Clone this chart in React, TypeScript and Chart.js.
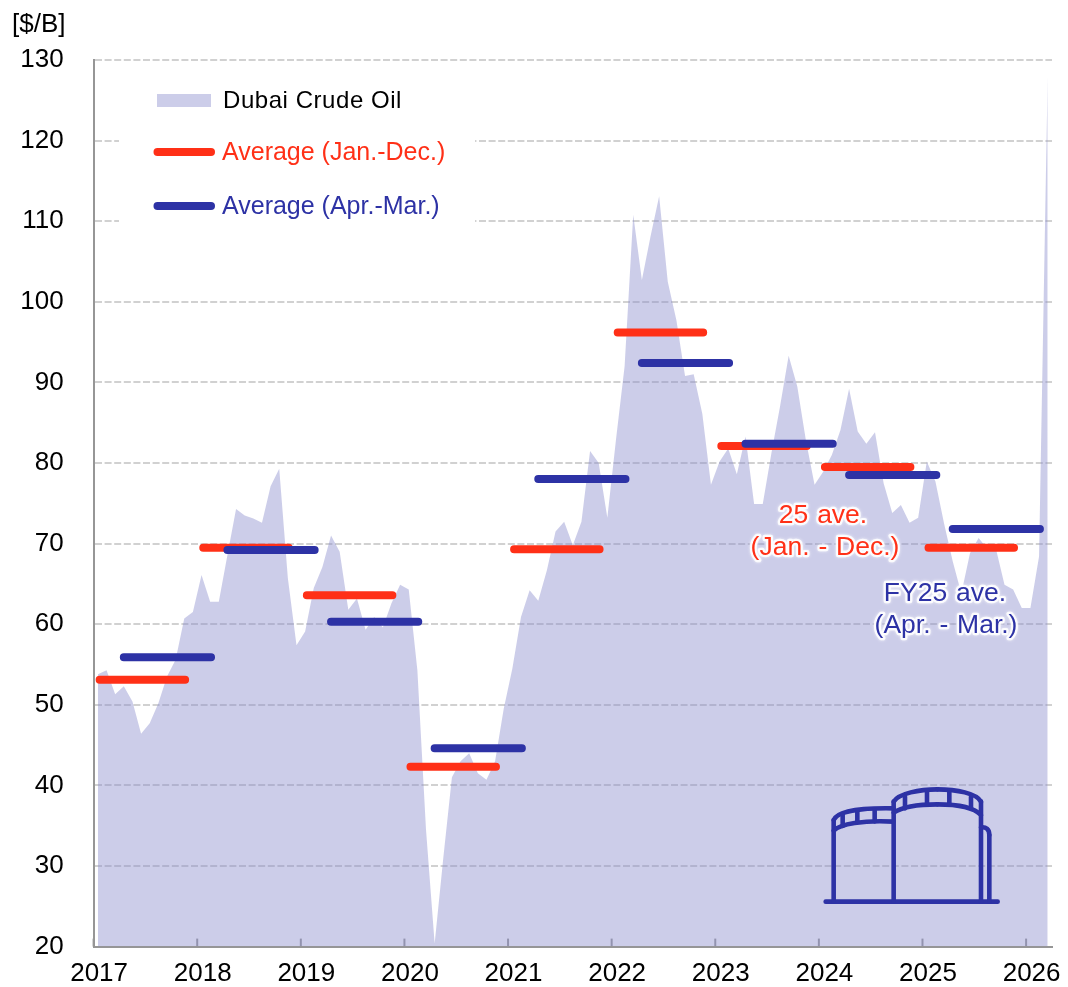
import React, { useEffect, useRef } from "react";
import { Chart, registerables } from "chart.js";

Chart.register(...registerables);

const FONT = '"Liberation Sans", Arial, sans-serif';
const RED = "#FF3017";
const BLUE = "#2D32A5";
const AREA_SWATCH = "#CCCDE9";

const yearLabels = ["2017", "2018", "2019", "2020", "2021", "2022", "2023", "2024", "2025", "2026"];

// Monthly Dubai crude, Jan 2017 – Mar 2026 ($/B)
const dubaiMonthly = [
  53.8, 54.3, 51.3, 52.3, 50.4, 46.4, 47.7, 50.2, 53.5, 55.6, 60.7, 61.5,
  66.1, 62.8, 62.8, 68.6, 74.3, 73.5, 73.1, 72.6, 77.1, 79.3, 65.7, 57.4,
  59.1, 64.5, 67.1, 71.0, 69.0, 61.8, 63.2, 59.3, 60.9, 59.6, 62.6, 64.9,
  64.3, 54.3, 34.5, 20.4, 31.0, 41.0, 43.0, 44.0, 41.5, 40.7, 43.0, 49.5,
  54.5, 60.9, 64.2, 62.9, 66.7, 71.5, 72.7, 69.8, 72.7, 81.5, 80.0, 73.2,
  82.9, 92.0, 110.8, 102.7, 108.1, 113.1, 102.5, 97.7, 90.8, 91.0, 86.1, 77.3,
  80.2, 81.8, 78.6, 83.3, 74.9, 74.9, 81.2, 87.0, 93.3, 89.5, 82.8, 77.3,
  78.9, 81.0, 84.1, 89.2, 83.9, 82.4, 83.8, 77.5, 73.8, 74.8, 72.6, 73.2,
  80.2, 77.7, 72.5, 67.8, 63.8, 68.8, 70.7, 69.4, 69.4, 64.9, 64.3, 62.0,
  62.0, 68.4, 128.0,
];

const averageCalendar = [53.1, 69.5, 63.6, 42.3, 69.3, 96.2, 82.1, 79.5, 69.5];
const averageFiscal = [55.9, 69.2, 60.3, 44.6, 78.0, 92.4, 82.4, 78.5, 71.8];

const MONTHS_PER_YEAR = 12;

function avgSegments(values: number[], startMonth: number, endMonth: number) {
  const pts: { x: number; y: number | null }[] = [];
  values.forEach((v, i) => {
    pts.push({ x: i * MONTHS_PER_YEAR + startMonth, y: v });
    pts.push({ x: i * MONTHS_PER_YEAR + endMonth, y: v });
    pts.push({ x: i * MONTHS_PER_YEAR + endMonth + 0.1, y: null });
  });
  return pts;
}

function haloText(ctx: CanvasRenderingContext2D, text: string, x: number, y: number, color: string) {
  ctx.save();
  ctx.font = `26.5px ${FONT}`;
  (ctx as any).wordSpacing = "1.5px";
  ctx.textAlign = "center";
  ctx.textBaseline = "middle";
  ctx.lineJoin = "round";
  ctx.shadowColor = "rgba(255,255,255,0.9)";
  ctx.shadowBlur = 3;
  ctx.strokeStyle = "rgba(255,255,255,0.85)";
  ctx.lineWidth = 4.5;
  ctx.strokeText(text, x, y);
  ctx.shadowBlur = 0;
  ctx.fillStyle = color;
  ctx.fillText(text, x, y);
  ctx.restore();
}

function drawTanks(ctx: CanvasRenderingContext2D) {
  const P = (zx: number, zy: number): [number, number] => [780 + zx / 3, 740 + zy / 3];
  const line = (pts: [number, number][]) => {
    ctx.beginPath();
    pts.forEach((p, i) => (i ? ctx.lineTo(...P(p[0], p[1])) : ctx.moveTo(...P(p[0], p[1]))));
    ctx.stroke();
  };
  const curve = (a: [number, number], c1: [number, number], c2: [number, number], b: [number, number]) => {
    ctx.beginPath();
    ctx.moveTo(...P(a[0], a[1]));
    ctx.bezierCurveTo(...P(c1[0], c1[1]), ...P(c2[0], c2[1]), ...P(b[0], b[1]));
    ctx.stroke();
  };
  ctx.save();
  ctx.strokeStyle = BLUE;
  ctx.lineWidth = 4.6;
  ctx.lineCap = "round";
  ctx.lineJoin = "round";
  line([[137, 485], [653, 485]]);
  // left tank
  line([[161, 485], [161, 240]]);
  curve([161, 240], [170, 215], [240, 203], [340, 205]);
  curve([161, 272], [180, 252], [250, 240], [340, 245]);
  [188, 232, 284].forEach((x) => line([[x, x < 200 ? 222 : 212], [x, x < 200 ? 258 : 244]]));
  // right tank
  line([[341, 485], [341, 185]]);
  line([[603, 485], [603, 185]]);
  curve([341, 185], [355, 160], [420, 148], [472, 148]);
  curve([472, 148], [530, 148], [590, 160], [603, 185]);
  curve([341, 218], [370, 198], [420, 193], [472, 193]);
  curve([472, 193], [530, 193], [580, 200], [603, 225]);
  [375, 441, 508, 573].forEach((x) => line([[x, x === 375 || x === 573 ? 170 : 152], [x, x === 375 || x === 573 ? 205 : 192]]));
  // pipe
  curve([603, 262], [618, 260], [628, 268], [628, 285]);
  line([[628, 285], [628, 485]]);
  ctx.restore();
}

const decorations = {
  id: "decorations",
  beforeDatasetsDraw(chart: any) {
    const ctx: CanvasRenderingContext2D = chart.ctx;
    ctx.save();
    ctx.fillStyle = "#fff";
    ctx.fillRect(119, 130, 356, 105);
    // inward year ticks on the x axis
    const xs = chart.scales.x;
    const bottom = chart.chartArea.bottom;
    ctx.strokeStyle = "#969696";
    ctx.lineWidth = 2;
    xs.ticks.forEach((t: any) => {
      const px = xs.getPixelForValue(t.value);
      ctx.beginPath();
      ctx.moveTo(px, bottom);
      ctx.lineTo(px, bottom - 8);
      ctx.stroke();
    });
    ctx.restore();
  },
  afterDatasetsDraw(chart: any) {
    const ctx: CanvasRenderingContext2D = chart.ctx;
    ctx.save();
    // unit
    ctx.fillStyle = "#000";
    ctx.font = `26px ${FONT}`;
    ctx.textBaseline = "middle";
    ctx.textAlign = "left";
    ctx.fillText("[$/B]", 12, 25);

    // legend
    ctx.fillStyle = AREA_SWATCH;
    ctx.fillRect(157, 94, 54, 13);
    ctx.lineCap = "round";
    ctx.lineWidth = 8;
    ctx.strokeStyle = RED;
    ctx.beginPath();
    ctx.moveTo(157.5, 152);
    ctx.lineTo(211, 152);
    ctx.stroke();
    ctx.strokeStyle = BLUE;
    ctx.beginPath();
    ctx.moveTo(157.5, 206);
    ctx.lineTo(211, 206);
    ctx.stroke();

    ctx.fillStyle = "#000";
    ctx.font = `24px ${FONT}`;
    (ctx as any).letterSpacing = "0.55px";
    ctx.fillText("Dubai Crude Oil", 223, 101);
    (ctx as any).letterSpacing = "0px";
    ctx.font = `25px ${FONT}`;
    ctx.fillStyle = RED;
    ctx.fillText("Average (Jan.-Dec.)", 222, 153.5);
    ctx.fillStyle = BLUE;
    ctx.fillText("Average (Apr.-Mar.)", 222, 207.5);
    ctx.restore();

    haloText(ctx, "25 ave.", 823, 515.5, RED);
    haloText(ctx, "(Jan. - Dec.)", 825, 547.5, RED);
    haloText(ctx, "FY25 ave.", 945, 593.5, BLUE);
    haloText(ctx, "(Apr. - Mar.)", 946, 625.5, BLUE);
    drawTanks(ctx);
  },
};

export default function App() {
  const ref = useRef<HTMLCanvasElement | null>(null);

  useEffect(() => {
    if (!ref.current) return;
    const chart = new Chart(ref.current, {
      type: "line",
      data: {
        datasets: [
          {
            label: "Average (Apr.-Mar.)",
            data: avgSegments(averageFiscal, 3.5, 13.6),
            borderColor: BLUE,
            borderWidth: 8,
            borderCapStyle: "round",
            pointRadius: 0,
            spanGaps: false,
            fill: false,
          },
          {
            label: "Average (Jan.-Dec.)",
            data: avgSegments(averageCalendar, 0.7, 10.6),
            borderColor: RED,
            borderWidth: 8,
            borderCapStyle: "round",
            pointRadius: 0,
            spanGaps: false,
            fill: false,
          },
          {
            label: "Dubai Crude Oil",
            data: dubaiMonthly.map((v, i) => ({ x: i + 0.5, y: v })),
            borderWidth: 0,
            borderColor: "rgba(0,0,0,0)",
            backgroundColor: "rgba(142,144,206,0.45)",
            pointRadius: 0,
            fill: "origin",
          },
        ],
      },
      options: {
        animation: false,
        responsive: false,
        maintainAspectRatio: false,
        layout: { padding: { left: 0, top: 60, right: 16, bottom: 0 } },
        plugins: { legend: { display: false }, tooltip: { enabled: false } },
        scales: {
          x: {
            type: "linear",
            min: 0,
            max: dubaiMonthly.length,
            grid: { display: false, drawTicks: false },
            border: { color: "#969696", width: 2 },
            afterFit(scale: any) {
              scale.height = 40.4;
              scale.paddingLeft = 0;
              scale.paddingRight = 0;
            },
            ticks: {
              stepSize: MONTHS_PER_YEAR,
              includeBounds: false,
              autoSkip: false,
              maxRotation: 0,
              labelOffset: 5.5,
              padding: 12,
              color: "#000",
              font: { family: FONT, size: 26 },
              callback: (v: any) => yearLabels[Number(v) / MONTHS_PER_YEAR] ?? "",
            },
          },
          y: {
            type: "linear",
            min: 20,
            max: 130,
            grid: { color: "rgba(140,140,140,0.4)", lineWidth: 2, drawTicks: false },
            border: { color: "#969696", width: 2, dash: [7, 2.6] },
            afterFit(scale: any) {
              scale.width = 93.6;
              scale.paddingTop = 0;
              scale.paddingBottom = 0;
            },
            ticks: {
              stepSize: 10,
              padding: 30,
              color: "#000",
              font: { family: FONT, size: 26 },
            },
          },
        },
      },
      plugins: [decorations],
    } as any);
    return () => chart.destroy();
  }, []);

  return (
    <div style={{ position: "absolute", left: 0, top: 0, width: 1068, height: 987, background: "#fff" }}>
      <canvas ref={ref} width={1068} height={987} style={{ display: "block" }} />
    </div>
  );
}
